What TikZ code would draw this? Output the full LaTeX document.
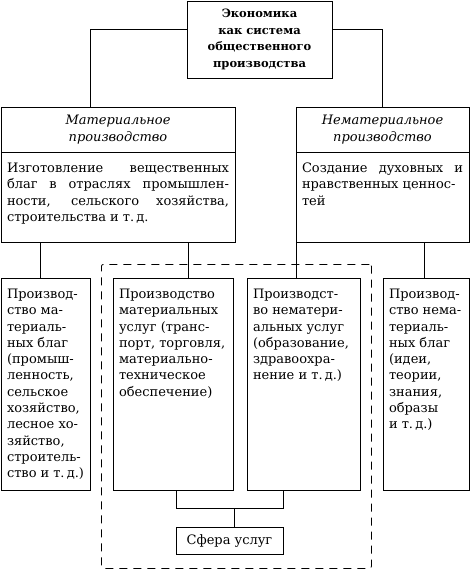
\documentclass[tikz,border=0pt]{standalone}
\usepackage{fontspec}
\setmainfont{DejaVu Serif}
\usepackage{tikz}
\usetikzlibrary{positioning}
\newcommand{\celltext}[3]{\parbox[t][#2][t]{#1}{#3}}

\begin{document}
\begin{tikzpicture}[
  x=1pt, y=-1pt,
  line width=0.8pt,
  box/.style={rectangle, draw, inner sep=0pt, outer sep=0pt, font=\fontsize{13}{16.3}\selectfont},
  head/.style={box, text width=#1, align=center, minimum height=45pt, font=\itshape\fontsize{13}{17}\selectfont},
  cell/.style={box, inner xsep=6pt, inner ysep=11pt, anchor=north west},
  zone/.style={draw, dash pattern=on 8pt off 6pt, rounded corners=2pt, minimum width=270pt, minimum height=304pt, anchor=north west, inner sep=0pt}
]
\useasboundingbox (0,0) rectangle (470,576);
% Top
\node[box, anchor=north west, minimum width=145pt, minimum height=77pt, align=center, font=\bfseries\fontsize{11.5}{16.7}\selectfont] (econ) at (187,1) {Экономика\\как система\\общественного\\производства};
% Two branches
\node[head=234pt, anchor=north west] (mathead) at (1,107) {Материальное\\производство};
\node[box, inner xsep=6pt, inner ysep=11pt, below=0pt of mathead] (matbody) {\celltext{222pt}{68pt}{Изготовление вещественных\linebreak благ в отраслях промышлен-\linebreak ности, сельского хозяйства,\linebreak строительства и~т.\,д.}};
\node[head=173pt, anchor=north west] (nonmathead) at (296,107) {Нематериальное\\производство};
\node[box, inner xsep=6pt, inner ysep=11pt, below=0pt of nonmathead] (nonmatbody) {\celltext{161pt}{68pt}{Создание духовных и\linebreak нравственных ценнос-\\тей}};
% Dashed area
\node[zone] (servzone) at (101,264) {};
% Bottom row
\node[cell] (prodmat) at (1,278) {\celltext{77pt}{190pt}{Производ-\\ство ма-\\териаль-\\ных благ\\(промыш-\\ленность,\\сельское\\хозяйство,\\лесное хо-\\зяйство,\\строитель-\\ство и~т.\,д.)}};
\node[cell] (uslmat) at (113,278) {\celltext{108pt}{190pt}{Производство\\материальных\\услуг (транс-\\порт, торговля,\\материально-\\техническое\\обеспечение)}};
\node[cell] (uslnemat) at (247,278) {\celltext{101pt}{190pt}{Производст-\\во нематери-\\альных услуг\\(образование,\\здравоохра-\\нение и~т.\,д.)}};
\node[cell] (prodnemat) at (383,278) {\celltext{74pt}{190pt}{Производ-\\ство нема-\\териаль-\\ных благ\\(идеи,\\теории,\\знания,\\образы\\и~т.\,д.)}};
\node[box, anchor=north west, minimum width=107pt, minimum height=27pt] (sfera) at (176,527) {Сфера услуг};
% Connectors
\draw (econ.west |- 0,29) -| (mathead.north -| 90,0);
\draw (econ.east |- 0,29) -| (nonmathead.north);
\draw (matbody.south -| 40,0) -- (prodmat.north -| 40,0);
\draw (matbody.south -| 188,0) -- (uslmat.north -| 188,0);
\draw (nonmatbody.south -| nonmatbody.west) -- (uslnemat.north -| nonmatbody.west);
\draw (nonmatbody.south -| 424,0) -- (prodnemat.north -| 424,0);
\draw (uslmat.south -| sfera.west) -- ++(0,18) -| (uslnemat.south -| sfera.east);
\draw (sfera.north -| 234,0) -- ++(0,-19);
\end{tikzpicture}
\end{document}
